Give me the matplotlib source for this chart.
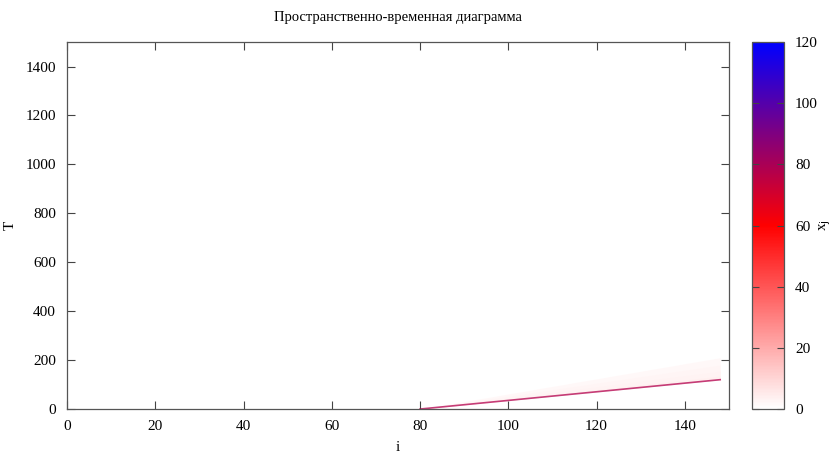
import matplotlib
matplotlib.use("Agg")
import matplotlib.pyplot as plt
import numpy as np
from matplotlib.colors import LinearSegmentedColormap, Normalize
from matplotlib.cm import ScalarMappable

# Front of the travelling wave: cell index i and time step T
front_i = [80, 148]
front_T = [0, 120]
front_value = 78

# Faint trail left behind the front (upper edges in T, value of x_j for each band)
trail_i = [80, 148]
trail_tops = [[0, 210], [0, 180], [0, 155], [0, 135]]
trail_values = [2, 2.5, 3, 4]

i_limits = [0, 150]
T_limits = [0, 1500]
x_ticks = [0, 20, 40, 60, 80, 100, 120, 140]
y_ticks = [0, 200, 400, 600, 800, 1000, 1200, 1400]
cb_ticks = [0, 20, 40, 60, 80, 100, 120]

plt.rcParams['font.family'] = ['Liberation Serif', 'DejaVu Serif']

# gnuplot-like palette: white -> red -> blue
cmap = LinearSegmentedColormap.from_list("wrb", [(0, "white"), (0.5, "red"), (1, "blue")])
norm = Normalize(vmin=0, vmax=120)

fig = plt.figure(figsize=(8.34, 4.55), dpi=100)
ax = fig.add_axes([0.0803, 0.101, 0.7938, 0.8066])
cax = fig.add_axes([0.9017, 0.101, 0.0384, 0.8066])

# Trail bands behind the front, widest first
for top, val in zip(trail_tops, trail_values):
    ax.fill_between(trail_i, front_T, top, color=cmap(norm(val)), lw=0, alpha=0.8)

# The front itself
ax.plot(front_i, front_T, color=cmap(norm(front_value)), lw=1.2, alpha=0.75)

ax.set_xlim(i_limits)
ax.set_ylim(T_limits)
ax.set_xticks(x_ticks)
ax.set_yticks(y_ticks)
ax.tick_params(direction='in', top=True, right=True, length=6, width=0.8,
               colors='#444444', labelcolor='black', labelsize=11, pad=8)
for s in ax.spines.values():
    s.set_color('#555555')
    s.set_linewidth(0.9)

ax.set_xlabel('i', fontsize=11, labelpad=6)
ax.set_ylabel('T', fontsize=11, labelpad=6)
ax.set_title('Пространственно-временная диаграмма', fontsize=10.5, pad=15)

# Colour box
sm = ScalarMappable(norm=norm, cmap=cmap)
cb = fig.colorbar(sm, cax=cax)
cb.set_ticks(cb_ticks)
cb.outline.set_edgecolor('#555555')
cb.outline.set_linewidth(0.9)
cax.tick_params(direction='in', left=True, right=True, length=5, width=0.8,
                colors='#444444', labelcolor='black', labelsize=11, pad=8)
# label sits close to the tick numbers, like gnuplot's cblabel
fig.text(0.989, 0.505, r'x$_\mathrm{j}$', rotation=90, ha='center', va='center', fontsize=11)

fig.savefig('out.png', dpi=100)
